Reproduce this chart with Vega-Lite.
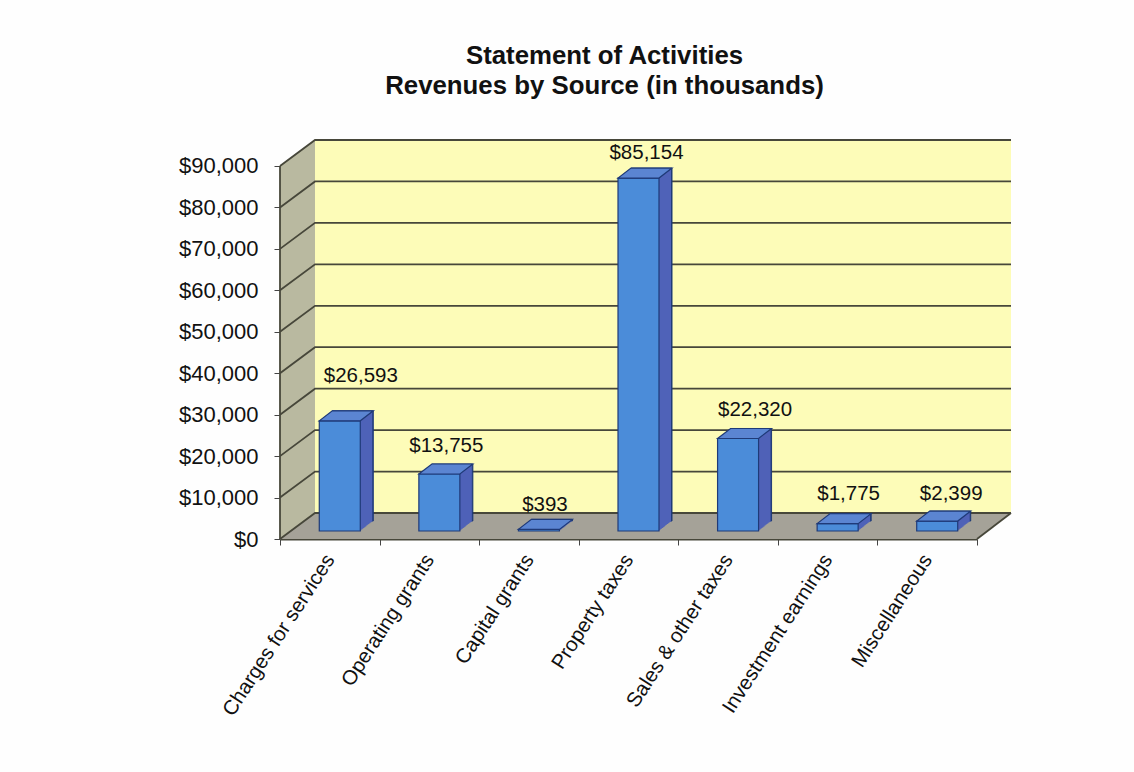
{"$schema":"https://vega.github.io/schema/vega-lite/v6.json","width":731,"height":399,"autosize":"none","padding":{"left":280,"top":140,"right":123,"bottom":233},"background":"#fefefe","title":{"text":["Statement of Activities","Revenues by Source (in thousands)"],"font":"Liberation Sans","fontSize":25.8,"fontWeight":"bold","color":"#111111","anchor":"middle","dx":-41,"offset":37,"lineHeight":30},"config":{"view":{"stroke":null},"font":"Liberation Sans"},"datasets":{"walls":[{"part":"side","d":0,"lo":0,"hi":90000},{"part":"side","d":35,"lo":6273,"hi":96273},{"part":"back","d":35,"lo":6273,"hi":96273},{"part":"back","d":731,"lo":6273,"hi":96273},{"part":"floor","d":0,"lo":0,"hi":0},{"part":"floor","d":35,"lo":0,"hi":6273},{"part":"floor","d":697,"lo":0,"hi":6273},{"part":"floor","d":731,"lo":6273,"hi":6273}],"grid":[{"k":"0","d":0,"y":0},{"k":"0","d":35,"y":6273},{"k":"0","d":731,"y":6273},{"k":"10","d":0,"y":10000},{"k":"10","d":35,"y":16273},{"k":"10","d":731,"y":16273},{"k":"20","d":0,"y":20000},{"k":"20","d":35,"y":26273},{"k":"20","d":731,"y":26273},{"k":"30","d":0,"y":30000},{"k":"30","d":35,"y":36273},{"k":"30","d":731,"y":36273},{"k":"40","d":0,"y":40000},{"k":"40","d":35,"y":46273},{"k":"40","d":731,"y":46273},{"k":"50","d":0,"y":50000},{"k":"50","d":35,"y":56273},{"k":"50","d":731,"y":56273},{"k":"60","d":0,"y":60000},{"k":"60","d":35,"y":66273},{"k":"60","d":731,"y":66273},{"k":"70","d":0,"y":70000},{"k":"70","d":35,"y":76273},{"k":"70","d":731,"y":76273},{"k":"80","d":0,"y":80000},{"k":"80","d":35,"y":86273},{"k":"80","d":731,"y":86273},{"k":"90","d":0,"y":90000},{"k":"90","d":35,"y":96273},{"k":"90","d":731,"y":96273},{"k":"left","d":0,"y":0},{"k":"left","d":0,"y":90000},{"k":"right","d":697,"y":0},{"k":"right","d":731,"y":6273}],"bars":[{"category":"Charges for services","value":26593},{"category":"Operating grants","value":13755},{"category":"Capital grants","value":393},{"category":"Property taxes","value":85154},{"category":"Sales & other taxes","value":22320},{"category":"Investment earnings","value":1775},{"category":"Miscellaneous","value":2399}]},"data":{"name":"bars"},"encoding":{"x":{"field":"category","type":"nominal","sort":null,"scale":{"domain":["Charges for services","Operating grants","Capital grants","Property taxes","Sales & other taxes","Investment earnings","Miscellaneous"],"range":[0,697],"paddingInner":0,"paddingOuter":0},"axis":null},"y":{"field":"value","type":"quantitative","title":null,"scale":{"domain":[0,96273],"nice":false},"axis":{"values":[0,10000,20000,30000,40000,50000,60000,70000,80000,90000],"format":"$,d","domain":false,"grid":false,"labelFontSize":22,"labelColor":"#111111","tickColor":"#444444","tickSize":6,"labelPadding":16}}},"layer":[{"data":{"name":"walls"},"transform":[{"filter":"datum.part=='side'"}],"mark":{"type":"area","color":"#b9b9a0"},"encoding":{"x":{"field":"d","type":"quantitative","scale":{"domain":[0,731],"nice":false,"zero":false},"axis":null},"y":{"field":"lo","type":"quantitative"},"y2":{"field":"hi"}}},{"data":{"name":"walls"},"transform":[{"filter":"datum.part=='back'"}],"mark":{"type":"area","color":"#fdfcb8"},"encoding":{"x":{"field":"d","type":"quantitative","scale":{"domain":[0,731],"nice":false,"zero":false},"axis":null},"y":{"field":"lo","type":"quantitative"},"y2":{"field":"hi"}}},{"data":{"name":"walls"},"transform":[{"filter":"datum.part=='floor'"}],"mark":{"type":"area","color":"#a5a298"},"encoding":{"x":{"field":"d","type":"quantitative","scale":{"domain":[0,731],"nice":false,"zero":false},"axis":null},"y":{"field":"lo","type":"quantitative"},"y2":{"field":"hi"}}},{"data":{"name":"grid"},"mark":{"type":"line","color":"#47473a","strokeWidth":1.8},"encoding":{"x":{"field":"d","type":"quantitative","sort":null,"scale":{"domain":[0,731],"nice":false,"zero":false},"axis":null},"y":{"field":"y","type":"quantitative"},"detail":{"field":"k"},"order":{"field":"d"}}},{"mark":{"type":"tick","opacity":0},"encoding":{"x":{"field":"category","type":"nominal","sort":null,"scale":{"domain":["Charges for services","Operating grants","Capital grants","Property taxes","Sales & other taxes","Investment earnings","Miscellaneous"],"range":[0,697],"paddingInner":0,"paddingOuter":0},"axis":{"title":null,"tickBand":"extent","tickColor":"#444444","tickSize":6,"domainColor":"#47473a","domainWidth":2,"labelAngle":-57,"labelAlign":"right","labelBaseline":"middle","labelFontSize":20.5,"labelColor":"#111111","labelPadding":11,"labelLimit":300}},"y":{"datum":0}}},{"mark":{"type":"bar","size":41,"color":"#1f3a78","xOffset":23,"yOffset":-18,"stroke":"#1f3a78","strokeWidth":1}},{"mark":{"type":"bar","size":41,"color":"#4f62b8","xOffset":22,"yOffset":-17.2}},{"mark":{"type":"bar","size":41,"color":"#4f62b8","xOffset":21,"yOffset":-16.5}},{"mark":{"type":"bar","size":41,"color":"#4f62b8","xOffset":20,"yOffset":-15.7}},{"mark":{"type":"bar","size":41,"color":"#4f62b8","xOffset":19,"yOffset":-14.9}},{"mark":{"type":"bar","size":41,"color":"#4f62b8","xOffset":18,"yOffset":-14.2}},{"mark":{"type":"bar","size":41,"color":"#4f62b8","xOffset":17,"yOffset":-13.4}},{"mark":{"type":"bar","size":41,"color":"#4f62b8","xOffset":16,"yOffset":-12.6}},{"mark":{"type":"bar","size":41,"color":"#4f62b8","xOffset":15,"yOffset":-11.8}},{"mark":{"type":"bar","size":41,"color":"#4f62b8","xOffset":14,"yOffset":-11.1}},{"mark":{"type":"bar","size":41,"color":"#4f62b8","xOffset":13,"yOffset":-10.3}},{"mark":{"type":"bar","size":41,"color":"#4f62b8","xOffset":12,"yOffset":-9.5}},{"mark":{"type":"bar","size":41,"color":"#4f62b8","xOffset":11,"yOffset":-8.8}},{"mark":{"type":"bar","size":41,"color":"#4b8cd9","xOffset":10,"yOffset":-8,"stroke":"#1f3a78","strokeWidth":1.2}},{"mark":{"type":"point","shape":"M-20.5 0L20.5 0L33.5 -10L-7.5 -10Z","size":4,"filled":true,"fill":"#5b85d2","stroke":"#1f3a78","strokeWidth":1.2,"opacity":1,"xOffset":10,"yOffset":-8}},{"transform":[{"filter":"datum.value==26593"}],"mark":{"type":"text","fontSize":20.5,"color":"#111111","dx":31,"dy":-53},"encoding":{"text":{"field":"value","format":"$,d"}}},{"transform":[{"filter":"datum.value==13755"}],"mark":{"type":"text","fontSize":20.5,"color":"#111111","dx":17,"dy":-36},"encoding":{"text":{"field":"value","format":"$,d"}}},{"transform":[{"filter":"datum.value==393"}],"mark":{"type":"text","fontSize":20.5,"color":"#111111","dx":16,"dy":-32},"encoding":{"text":{"field":"value","format":"$,d"}}},{"transform":[{"filter":"datum.value==85154"}],"mark":{"type":"text","fontSize":20.5,"color":"#111111","dx":18,"dy":-33},"encoding":{"text":{"field":"value","format":"$,d"}}},{"transform":[{"filter":"datum.value==22320"}],"mark":{"type":"text","fontSize":20.5,"color":"#111111","dx":27,"dy":-36},"encoding":{"text":{"field":"value","format":"$,d"}}},{"transform":[{"filter":"datum.value==1775"}],"mark":{"type":"text","fontSize":20.5,"color":"#111111","dx":21,"dy":-38},"encoding":{"text":{"field":"value","format":"$,d"}}},{"transform":[{"filter":"datum.value==2399"}],"mark":{"type":"text","fontSize":20.5,"color":"#111111","dx":24,"dy":-35},"encoding":{"text":{"field":"value","format":"$,d"}}}],"resolve":{"scale":{"x":"independent"},"axis":{"x":"independent"}}}
